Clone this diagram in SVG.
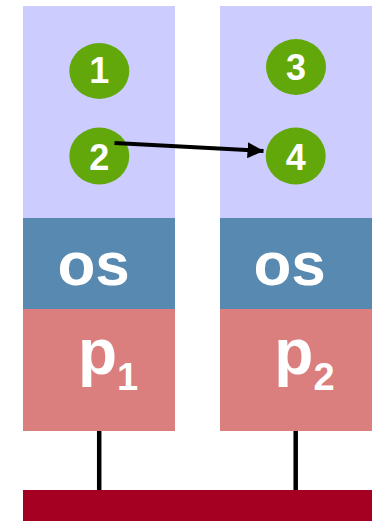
<svg xmlns="http://www.w3.org/2000/svg" width="374" height="527" viewBox="0 0 374 527">
<style>
.mem{fill:#CCCCFF}
.os{fill:#5889B0}
.proc{fill:#DB7F7E}
.bus{fill:#A50021}
.dot{fill:#63A80B}
.num{font-family:"Liberation Sans",Arial,sans-serif;font-weight:bold;font-size:36px;fill:#fff;text-anchor:middle}
.big{font-family:"Liberation Sans",Arial,sans-serif;font-weight:bold;font-size:62px;fill:#fff}
.pp{font-family:"Liberation Sans",Arial,sans-serif;font-weight:bold;font-size:64px;fill:#fff}
.sub{font-family:"Liberation Sans",Arial,sans-serif;font-weight:bold;font-size:38px;fill:#fff}
.wire{stroke:#000;stroke-width:4.5;fill:none}
.msg{stroke:#000;stroke-width:4;fill:none}
</style>
<defs>
<marker id="ah" markerUnits="userSpaceOnUse" markerWidth="18" markerHeight="16" viewBox="0 0 18 16" refX="16" refY="8" orient="auto">
<path d="M0,0 L16,8 L0,16 Z" fill="#000"/>
</marker>
</defs>
<rect width="374" height="527" fill="#fff"/>
<g id="machine1">
<rect class="mem" x="23" y="6" width="152" height="212"/>
<rect class="os" x="23" y="218" width="152" height="91"/>
<rect class="proc" x="23" y="309" width="152" height="122"/>
<text class="big" x="57.5" y="285">os</text>
<text class="pp" x="78" y="374">p<tspan class="sub" y="390">1</tspan></text>
</g>
<g id="machine2">
<rect class="mem" x="220" y="6" width="152" height="212"/>
<rect class="os" x="220" y="218" width="152" height="91"/>
<rect class="proc" x="220" y="309" width="152" height="122"/>
<text class="big" x="253.5" y="285">os</text>
<text class="pp" x="274.3" y="374">p<tspan class="sub" y="390">2</tspan></text>
</g>
<g id="bus">
<rect class="bus" x="23" y="490" width="349" height="31"/>
</g>
<g id="n1"><ellipse class="dot" cx="99.3" cy="71" rx="30" ry="28"/><text class="num" x="99.3" y="83">1</text></g>
<g id="n2"><ellipse class="dot" cx="99.3" cy="156" rx="30" ry="28.5"/><text class="num" x="99.3" y="170">2</text></g>
<g id="n3"><ellipse class="dot" cx="296" cy="67" rx="30" ry="28"/><text class="num" x="296" y="80">3</text></g>
<g id="n4"><ellipse class="dot" cx="295.7" cy="156" rx="30" ry="28.5"/><text class="num" x="295.7" y="169.5">4</text></g>
<g id="connectors">
<line class="wire" x1="99.2" y1="431" x2="99.2" y2="490"/>
<line class="wire" x1="295.7" y1="431" x2="295.7" y2="490"/>
<line class="msg" x1="114.5" y1="143" x2="263.5" y2="151" marker-end="url(#ah)"/>
</g>
</svg>
